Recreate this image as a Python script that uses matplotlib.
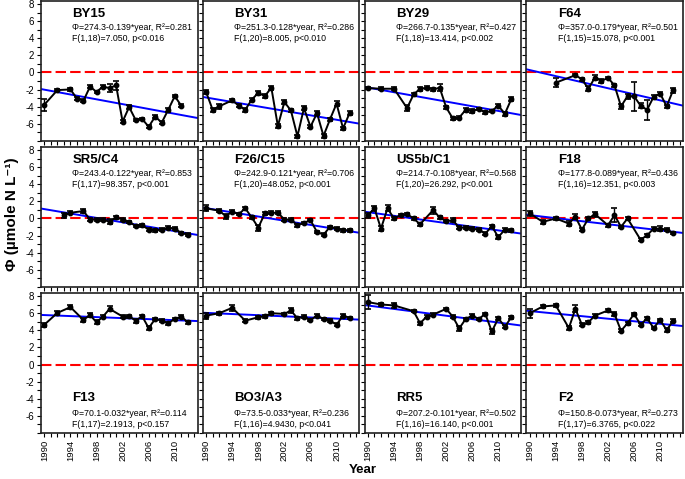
import matplotlib.pyplot as plt
from matplotlib.ticker import MultipleLocator
import numpy as np

plt.rcParams['font.family'] = ['Liberation Sans', 'DejaVu Sans']
plt.rcParams['axes.unicode_minus'] = False

# Dades llegides del grafic (any, Phi, error)
by15_years = [1990, 1992, 1994, 1995, 1996, 1997, 1998, 1999, 2000, 2001, 2002,
              2003, 2004, 2005, 2006, 2007, 2008, 2009, 2010, 2011]
by15_phi = [-3.76, -2.06, -1.98, -3.05, -3.3, -1.66, -2.26, -1.66, -1.82, -1.5, -5.74,
            -4.04, -5.54, -5.43, -6.34, -5.15, -5.86, -4.36, -2.77, -3.88]
by15_err = [0.7, 0.15, 0.15, 0.2, 0.2, 0.2, 0.15, 0.15, 0.45, 0.5, 0.15,
            0.2, 0.15, 0.15, 0.15, 0.15, 0.15, 0.2, 0.15, 0.15]

by31_years = [1990, 1991, 1992, 1994, 1995, 1996, 1997, 1998, 1999, 2000, 2001,
              2002, 2003, 2004, 2005, 2006, 2007, 2008, 2009, 2010, 2011, 2012]
by31_phi = [-2.3, -4.36, -3.96, -3.25, -3.88, -4.36, -3.17, -2.38, -2.77, -1.78, -6.26,
            -3.45, -4.44, -7.45, -4.16, -6.34, -4.75, -7.41, -5.47, -3.64, -6.53, -4.75]
by31_err = [0.25, 0.25, 0.25, 0.2, 0.2, 0.25, 0.2, 0.2, 0.2, 0.25, 0.2,
            0.2, 0.2, 0.2, 0.2, 0.2, 0.2, 0.2, 0.2, 0.25, 0.2, 0.25]

by29_years = [1990, 1992, 1994, 1996, 1997, 1998, 1999, 2000, 2001, 2002,
              2003, 2004, 2005, 2006, 2007, 2008, 2009, 2010, 2011, 2012]
by29_phi = [-1.82, -1.9, -1.9, -4.16, -2.57, -1.9, -1.78, -1.98, -1.78, -4.08,
            -5.35, -5.27, -4.36, -4.48, -4.28, -4.67, -4.48, -3.88, -4.83, -3.09]
by29_err = [0.15, 0.15, 0.15, 0.35, 0.15, 0.25, 0.15, 0.2, 0.4, 0.15,
            0.15, 0.15, 0.2, 0.2, 0.15, 0.15, 0.15, 0.2, 0.2, 0.2]

f64_years = [1994, 1997, 1998, 1999, 2000, 2001, 2002, 2003, 2004,
             2005, 2006, 2007, 2008, 2009, 2010, 2011, 2012]
f64_phi = [-1.19, -0.32, -0.79, -1.9, -0.59, -0.99, -0.63, -1.5, -3.96,
           -2.77, -2.77, -3.88, -4.36, -2.85, -2.46, -3.96, -2.06]
f64_err = [0.5, 0.15, 0.2, 0.3, 0.3, 0.2, 0.15, 0.2, 0.3,
           0.3, 1.7, 0.3, 1.2, 0.2, 0.15, 0.2, 0.3]

sr5_years = [1993, 1994, 1996, 1997, 1998, 1999, 2000, 2001, 2002, 2003,
             2004, 2005, 2006, 2007, 2008, 2009, 2010, 2011, 2012]
sr5_phi = [0.39, 0.67, 0.87, -0.12, -0.12, -0.12, -0.39, 0.12, -0.12, -0.39,
           -0.87, -0.79, -1.3, -1.38, -1.3, -1.06, -1.18, -1.69, -1.89]
sr5_err = [0.3, 0.15, 0.2, 0.15, 0.15, 0.15, 0.3, 0.15, 0.15, 0.15,
           0.15, 0.15, 0.15, 0.15, 0.15, 0.15, 0.15, 0.15, 0.15]

f26_years = [1990, 1992, 1993, 1994, 1995, 1996, 1997, 1998, 1999, 2000, 2001,
             2002, 2003, 2004, 2005, 2006, 2007, 2008, 2009, 2010, 2011, 2012]
f26_phi = [1.18, 0.91, 0.28, 0.79, 0.51, 1.18, 0.12, -1.06, 0.59, 0.67, 0.67,
           -0.12, -0.12, -0.79, -0.51, -0.2, -1.57, -1.89, -0.98, -1.18, -1.38, -1.38]
f26_err = [0.35, 0.15, 0.3, 0.15, 0.15, 0.15, 0.15, 0.35, 0.15, 0.15, 0.15,
           0.15, 0.15, 0.15, 0.15, 0.15, 0.15, 0.15, 0.15, 0.15, 0.15, 0.15]

us5b_years = [1990, 1991, 1992, 1993, 1994, 1995, 1996, 1997, 1998, 2000, 2001,
              2002, 2003, 2004, 2005, 2006, 2007, 2008, 2009, 2010, 2011, 2012]
us5b_phi = [0.39, 1.18, -1.18, 1.18, 0.0, 0.39, 0.51, 0.0, -0.67, 0.98, 0.12,
            -0.31, -0.2, -1.06, -1.06, -1.18, -1.3, -1.77, -0.91, -2.17, -1.3, -1.38]
us5b_err = [0.3, 0.3, 0.3, 0.35, 0.2, 0.15, 0.15, 0.15, 0.2, 0.4, 0.15,
            0.15, 0.2, 0.15, 0.15, 0.15, 0.15, 0.15, 0.15, 0.2, 0.15, 0.15]

f18_years = [1990, 1992, 1994, 1996, 1997, 1998, 1999, 2000, 2002,
             2003, 2004, 2005, 2007, 2008, 2009, 2010, 2011, 2012]
f18_phi = [0.59, -0.39, 0.0, -0.59, 0.2, -1.3, 0.0, 0.51, -0.79,
           0.39, -0.98, 0.0, -2.48, -1.97, -1.18, -1.18, -1.3, -1.69]
f18_err = [0.3, 0.2, 0.15, 0.3, 0.3, 0.2, 0.15, 0.3, 0.15,
           0.8, 0.15, 0.15, 0.15, 0.2, 0.2, 0.3, 0.15, 0.15]

f13_years = [1990, 1992, 1994, 1996, 1997, 1998, 1999, 2000, 2002, 2003,
             2004, 2005, 2006, 2007, 2008, 2009, 2010, 2011, 2012]
f13_phi = [4.65, 6.03, 6.7, 5.2, 5.79, 4.93, 5.6, 6.5, 5.6, 5.64,
           5.12, 5.64, 4.26, 5.32, 5.12, 4.81, 5.32, 5.6, 4.93]
f13_err = [0.25, 0.2, 0.2, 0.25, 0.2, 0.25, 0.2, 0.3, 0.15, 0.15,
           0.25, 0.2, 0.2, 0.15, 0.15, 0.2, 0.15, 0.2, 0.15]

bo3_years = [1990, 1992, 1994, 1996, 1998, 1999, 2000, 2002, 2003,
             2004, 2005, 2006, 2007, 2008, 2009, 2010, 2011, 2012]
bo3_phi = [5.71, 5.99, 6.62, 5.12, 5.52, 5.64, 5.99, 5.91, 6.31,
           5.4, 5.6, 5.2, 5.71, 5.32, 5.12, 4.65, 5.71, 5.44]
bo3_err = [0.35, 0.15, 0.35, 0.15, 0.2, 0.2, 0.15, 0.15, 0.3,
           0.2, 0.15, 0.15, 0.15, 0.15, 0.15, 0.2, 0.15, 0.15]

rr5_years = [1990, 1992, 1994, 1997, 1998, 1999, 2000, 2002, 2003,
             2004, 2005, 2006, 2007, 2008, 2009, 2010, 2011, 2012]
rr5_phi = [7.29, 7.01, 6.9, 6.23, 4.81, 5.6, 5.83, 6.5, 5.6,
           4.22, 5.32, 5.71, 5.32, 5.91, 3.86, 5.4, 4.41, 5.52]
rr5_err = [0.8, 0.15, 0.25, 0.15, 0.2, 0.2, 0.15, 0.15, 0.2,
           0.25, 0.15, 0.15, 0.15, 0.15, 0.3, 0.15, 0.2, 0.2]

f2_years = [1990, 1992, 1994, 1996, 1997, 1998, 1999, 2000, 2002, 2003,
            2004, 2005, 2006, 2007, 2008, 2009, 2010, 2011, 2012]
f2_phi = [5.99, 6.78, 6.9, 4.26, 6.5, 4.65, 4.93, 5.71, 6.31, 5.91,
          3.94, 4.81, 5.91, 4.65, 5.4, 4.26, 5.2, 4.02, 5.12]
f2_err = [0.5, 0.15, 0.15, 0.2, 0.4, 0.2, 0.2, 0.15, 0.15, 0.2,
          0.2, 0.2, 0.15, 0.15, 0.15, 0.15, 0.15, 0.2, 0.15]

names = ['BY15', 'BY31', 'BY29', 'F64',
         'SR5/C4', 'F26/C15', 'US5b/C1', 'F18',
         'F13', 'BO3/A3', 'RR5', 'F2']
equations = ['Φ=274.3-0.139*year, R²=0.281', 'Φ=251.3-0.128*year, R²=0.286',
             'Φ=266.7-0.135*year, R²=0.427', 'Φ=357.0-0.179*year, R²=0.501',
             'Φ=243.4-0.122*year, R²=0.853', 'Φ=242.9-0.121*year, R²=0.706',
             'Φ=214.7-0.108*year, R²=0.568', 'Φ=177.8-0.089*year, R²=0.436',
             'Φ=70.1-0.032*year, R²=0.114', 'Φ=73.5-0.033*year, R²=0.236',
             'Φ=207.2-0.101*year, R²=0.502', 'Φ=150.8-0.073*year, R²=0.273']
stats = ['F(1,18)=7.050, p<0.016', 'F(1,20)=8.005, p<0.010',
         'F(1,18)=13.414, p<0.002', 'F(1,15)=15.078, p<0.001',
         'F(1,17)=98.357, p<0.001', 'F(1,20)=48.052, p<0.001',
         'F(1,20)=26.292, p<0.001', 'F(1,16)=12.351, p<0.003',
         'F(1,17)=2.1913, p<0.157', 'F(1,16)=4.9430, p<0.041',
         'F(1,16)=16.140, p<0.001', 'F(1,17)=6.3765, p<0.022']

series = [(by15_years, by15_phi, by15_err), (by31_years, by31_phi, by31_err),
          (by29_years, by29_phi, by29_err), (f64_years, f64_phi, f64_err),
          (sr5_years, sr5_phi, sr5_err), (f26_years, f26_phi, f26_err),
          (us5b_years, us5b_phi, us5b_err), (f18_years, f18_phi, f18_err),
          (f13_years, f13_phi, f13_err), (bo3_years, bo3_phi, bo3_err),
          (rr5_years, rr5_phi, rr5_err), (f2_years, f2_phi, f2_err)]

xmin, xmax = 1989.5, 2013.5

fig, axes = plt.subplots(3, 4, figsize=(6.85, 4.79), dpi=100)
plt.subplots_adjust(left=0.06, right=0.997, top=0.998, bottom=0.096,
                    wspace=0.034, hspace=0.043)

for i, ax in enumerate(axes.flat):
    yrs, phi, err = series[i]
    row, col = divmod(i, 4)

    ax.axhline(0, color='#ff0000', lw=1.5, linestyle=(0, (5, 2)), zorder=1)

    # recta de regressio
    b, a = np.polyfit(yrs, phi, 1)
    xl = np.array([xmin, xmax])
    ax.plot(xl, a + b * xl, color='#0000ff', lw=1.4, zorder=2)

    ax.errorbar(yrs, phi, yerr=err, color='black', lw=1.4, marker='o', ms=3.2,
                capsize=2.5, capthick=1.2, elinewidth=1.0, zorder=3)

    ax.set_xlim(xmin, xmax)
    ax.set_ylim(-8, 8.35)
    ax.set_yticks([-6, -4, -2, 0, 2, 4, 6, 8])
    ax.yaxis.set_minor_locator(MultipleLocator(1))
    ax.set_xticks([1990, 1994, 1998, 2002, 2006, 2010])
    ax.xaxis.set_minor_locator(MultipleLocator(1))
    ax.tick_params(which='both', direction='out', length=3, width=0.8,
                   top=False, right=False, pad=2)
    ax.tick_params(axis='y', labelsize=7)
    ax.tick_params(axis='x', labelsize=6.8, rotation=90)
    if col > 0:
        ax.set_yticklabels([])
    if row < 2:
        ax.set_xticklabels([])
    for s in ax.spines.values():
        s.set_linewidth(1.2)
        s.set_color('#202020')

    if row < 2:
        ty, ey, fy = 0.91, 0.81, 0.73
    else:
        ty, ey, fy = 0.25, 0.137, 0.058
    ax.text(0.2, ty, names[i], transform=ax.transAxes, fontsize=9.5,
            fontweight='bold', va='center')
    ax.text(0.2, ey, equations[i], transform=ax.transAxes, fontsize=6.3, va='center')
    ax.text(0.2, fy, stats[i], transform=ax.transAxes, fontsize=6.3, va='center')

fig.text(0.018, 0.552, 'Φ (µmole N L⁻¹)', rotation=90, fontsize=11,
         fontweight='bold', ha='center', va='center')
fig.text(0.529, 0.018, 'Year', fontsize=9.5, fontweight='bold',
         ha='center', va='center')

plt.savefig('out.png', dpi=100)
